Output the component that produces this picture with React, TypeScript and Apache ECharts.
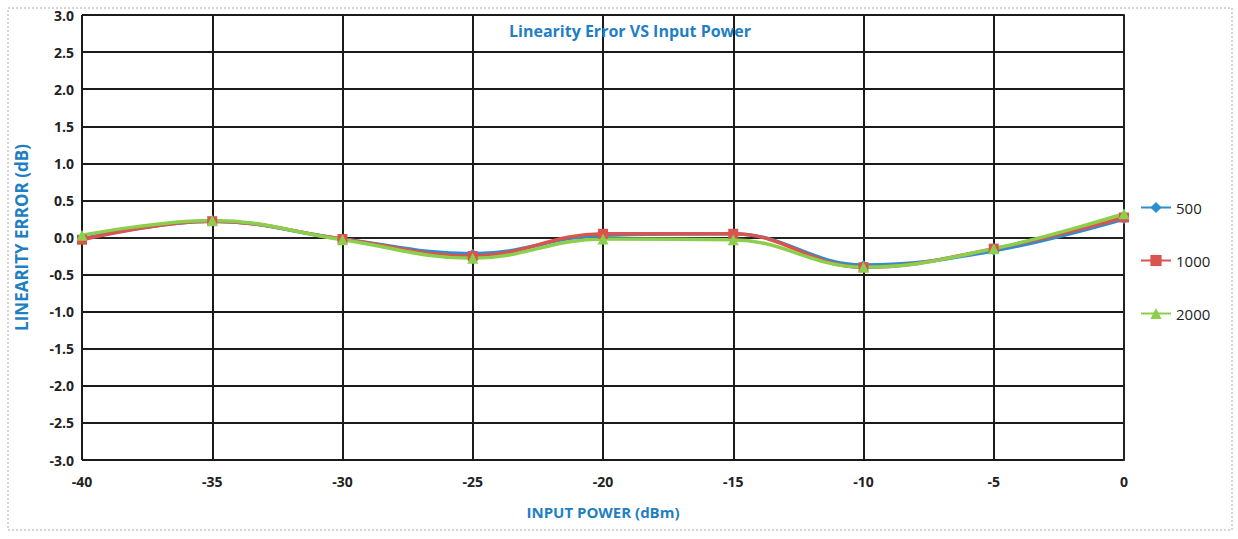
import React, { useEffect, useRef } from "react";
import * as echarts from "echarts";

const xValues = [-40, -35, -30, -25, -20, -15, -10, -5, 0];
const s500 = [-0.02, 0.22, -0.02, -0.22, 0.03, 0.05, -0.37, -0.18, 0.25];
const s1000 = [-0.03, 0.22, -0.02, -0.25, 0.05, 0.05, -0.4, -0.15, 0.27];
const s2000 = [0.03, 0.23, -0.03, -0.28, -0.02, -0.03, -0.4, -0.15, 0.32];

export default function App() {
  const ref = useRef<HTMLDivElement>(null);
  useEffect(() => {
    const chart = echarts.init(ref.current!, null, { renderer: "svg" });
    const mk = (name: string, data: number[], color: string, symbol: string, size: number) => ({
      name,
      type: "line",
      smooth: 0.4,
      data: xValues.map((x, i) => [x, data[i]]),
      symbol,
      symbolSize: size,
      lineStyle: { color, width: 3.5 },
      itemStyle: { color },
    });
    chart.setOption({
      animation: false,
      title: {
        text: "Linearity Error VS Input Power",
        left: 625,
        top: 18,
        textAlign: "center",
        textStyle: { color: "#1f7fc4", fontSize: 16, fontWeight: "bold", fontFamily: "Open Sans" },
      },
      graphic: [
        { type: "rect", shape: { x: 8, y: 8, width: 1224, height: 522 }, style: { fill: "none", stroke: "#aaa", lineDash: [2, 2] } },
      ],
      legend: {
        orient: "vertical",
        left: 1135,
        top: 195,
        itemGap: 38,
        itemWidth: 30,
        textStyle: { fontSize: 15, color: "#222", fontFamily: "Open Sans" },
        data: ["500", "1000", "2000"],
      },
      grid: { left: 82, right: 114, top: 15, bottom: 79 },
      xAxis: {
        type: "value",
        min: -40,
        max: 0,
        interval: 5,
        name: "INPUT POWER (dBm)",
        nameLocation: "middle",
        nameGap: 44,
        nameTextStyle: { color: "#1f7fc4", fontWeight: "bold", fontSize: 15, fontFamily: "Open Sans" },
        axisLine: { lineStyle: { color: "#222", width: 2 } },
        axisTick: { show: false },
        axisLabel: { color: "#222", fontWeight: "bold", fontSize: 14, margin: 14, fontFamily: "Open Sans" },
        splitLine: { lineStyle: { color: "#1a1a1a", width: 2 } },
      },
      yAxis: {
        type: "value",
        min: -3,
        max: 3,
        interval: 0.5,
        name: "LINEARITY ERROR (dB)",
        nameLocation: "middle",
        nameGap: 52,
        nameTextStyle: { color: "#1f7fc4", fontWeight: "bold", fontSize: 17, fontFamily: "Open Sans" },
        axisLine: { show: true, lineStyle: { color: "#222", width: 2 } },
        axisTick: { show: false },
        axisLabel: { color: "#222", fontWeight: "bold", fontSize: 14, formatter: (v: number) => v.toFixed(1), fontFamily: "Open Sans" },
        splitLine: { lineStyle: { color: "#1a1a1a", width: 2 } },
      },
      series: [
        mk("500", s500, "#2e8fd0", "diamond", 10),
        mk("1000", s1000, "#d9534f", "rect", 10),
        mk("2000", s2000, "#8ccf4d", "triangle", 11),
      ],
    });
    return () => chart.dispose();
  }, []);
  return <div ref={ref} style={{ position: "absolute", left: 0, top: 0, width: 1238, height: 539, background: "#fff" }} />;
}
